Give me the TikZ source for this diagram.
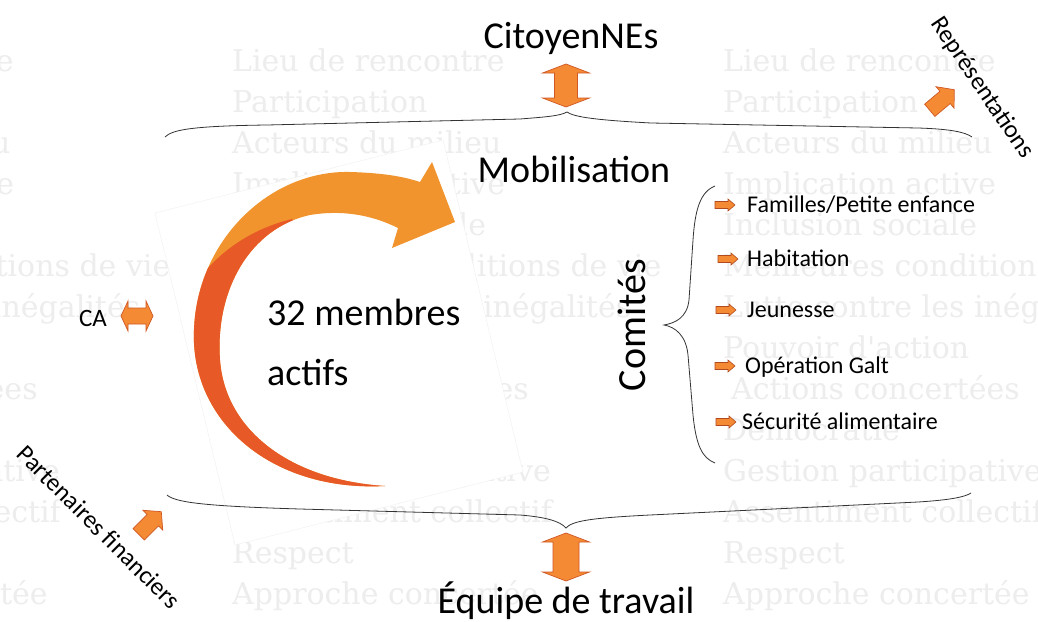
\documentclass[tikz,border=0pt]{standalone}
\usepackage{fontspec}
\setmainfont{Carlito}
\newfontfamily\wmfont{DejaVu Serif}
\usetikzlibrary{calc}
\definecolor{arrfill}{RGB}{245,138,52}
\definecolor{arrline}{RGB}{208,88,36}
\definecolor{bigorange}{RGB}{241,148,46}
\definecolor{bigred}{RGB}{231,90,40}
\def\onearrow[#1]#2(#3:#4:#5:#6:#7){\draw[#1,shift={#2},rotate=#3] (-#4,#7) -- (#4-#5,#7) -- (#4-#5,#6) -- (#4,0) -- (#4-#5,-#6) -- (#4-#5,-#7) -- (-#4,-#7) -- cycle;}
\def\dblarrow[#1]#2(#3:#4:#5:#6:#7){\draw[#1,shift={#2},rotate=#3] (-#4,0) -- (-#4+#5,#6) -- (-#4+#5,#7) -- (#4-#5,#7) -- (#4-#5,#6) -- (#4,0) -- (#4-#5,-#6) -- (#4-#5,-#7) -- (-#4+#5,-#7) -- (-#4+#5,-#6) -- cycle;}
\tikzset{
  wmark/.style={anchor=base west, inner sep=0pt, text=black!7, font=\wmfont\fontsize{30}{36}\selectfont},
  big/.style={inner sep=0pt, font=\fontsize{38}{46}\selectfont},
  item/.style={inner sep=0pt, font=\fontsize{24}{28}\selectfont},
  fatarr/.style={fill=arrfill, draw=arrline, line width=0.7pt},
  bullet/.style={fill=arrfill, draw=arrline!85!black, line width=0.6pt},
  curly/.style={line width=0.8pt, draw=black!80}
}
\begin{document}
\begin{tikzpicture}[x=1pt,y=-1pt]
		\useasboundingbox (0,0) rectangle (1038,621);
		\fill[white] (0,0) rectangle (1038,621);
		
		%%%%% faded words %%%%%
		\begin{scope}
			\clip (0,0) rectangle (1038,621);
			\foreach \cx in {-259,232,723}{
				\foreach \w [count=\i] in {Lieu de rencontre,Participation,Acteurs du milieu,Implication active,Inclusion sociale,Meilleures conditions de vie,Lutte contre les inégalités,Pouvoir d'action,\kern8pt Actions concertées,Démocratie,Gestion participative,Assentiment collectif,Respect,Approche concertée}{
					\node[wmark] at (\cx,71+41*\i-41) {\w};
				}
			}
		\end{scope}
		
		%%%%% picture behind the arrow %%%%%
		\filldraw[white, draw=black!6] (155,213) -- (443,140) -- (523,472) -- (235,545) -- cycle;
		
		%%%%% braces %%%%%
		\coordinate (toptip) at (567,112);
		\coordinate (bottip) at (566,528);
		\draw[curly] (165,137) .. controls (172,130) and (190,126) .. (267,125) -- (520,119) .. controls (545,117) and (560,116) .. (toptip) .. controls (574,117) and (595,120) .. (651,123) -- (918,128) .. controls (950,129) and (965,132) .. (972,137);
		\draw[curly] (167,495) .. controls (175,502) and (200,506) .. (300,509) -- (520,515) .. controls (545,517) and (560,521) .. (bottip) .. controls (572,521) and (590,518) .. (650,515) -- (918,502) .. controls (950,500) and (965,497) .. (971,493);
		\draw[curly] (715,186) .. controls (700,192) and (695,210) .. (693,240) -- (689,300) .. controls (687,318) and (675,323) .. (664,325) .. controls (675,327) and (686,335) .. (688,355) -- (693,415) .. controls (696,445) and (702,458) .. (715,463);
		
		%%%%% big arrow %%%%%
		\fill[bigorange] (385,486) .. controls (270,492) and (190,420) .. (194,330) .. controls (197,240) and (270,170) .. (350,172) .. controls (385,173) and (405,177) .. (420,182) -- (432,162) -- (455,222) -- (392,248) -- (398,228) .. controls (370,214) and (340,210) .. (310,215) .. controls (250,228) and (215,290) .. (220,360) .. controls (225,430) and (290,480) .. (385,486) -- cycle;
		\begin{scope}
			\clip (385,486) .. controls (270,492) and (190,420) .. (194,330) .. controls (197,240) and (270,170) .. (350,172) .. controls (385,173) and (405,177) .. (420,182) -- (432,162) -- (455,222) -- (392,248) -- (398,228) .. controls (370,214) and (340,210) .. (310,215) .. controls (250,228) and (215,290) .. (220,360) .. controls (225,430) and (290,480) .. (385,486) -- cycle;
			\fill[bigred] (305,240) -- (292,219) .. controls (255,228) and (215,250) .. (188,295) -- (150,520) -- (420,520) -- (420,300) -- cycle;
		\end{scope}
		
		%%%%% texts %%%%%
		\node[big, anchor=base] (cit) at (571,48) {CitoyenNEs};
		\node[big, anchor=base] (mob) at (574,182) {Mobilisation};
		\node[big, anchor=base west] (membres) at (267,325) {32 membres};
		\node[big, anchor=base west] (actifs) at ([yshift=-60pt]membres.base west) {actifs};
		\node[big, anchor=base, rotate=90, font=\fontsize{40}{46}\selectfont] (comites) at (645,325) {Comités};
		\node[big, anchor=base] (equipe) at (566,613) {Équipe de travail};
		\node[item, anchor=base, font=\fontsize{25}{28}\selectfont] (ca) at (93,326) {CA};
		\node[item, rotate=-56, font=\fontsize{25}{28}\selectfont] (repr) at (982,88) {Représentations};
		\node[item, rotate=-45, font=\fontsize{25}{28}\selectfont] (part) at (99,527) {Partenaires financiers};
		
		\node[item, anchor=base west] (fam) at (747,212) {Familles/Petite enfance};
		\node[item, anchor=base west] (hab) at (747,266) {Habitation};
		\node[item, anchor=base west] (jeu) at (747,317) {Jeunesse};
		\node[item, anchor=base west] (galt) at (745,373) {Opération Galt};
		\node[item, anchor=base west] (secu) at (742,429) {Sécurité alimentaire};
		
		%%%%% orange arrows %%%%%
		\dblarrow[fatarr]{(566,85.5)}(90:21.5:9:23.5:11.5);
		\dblarrow[fatarr]{(566,557)}(90:24:9:23.5:13);
		\dblarrow[fatarr]{(137,316)}(0:16:7:15:8);
		\onearrow[fatarr]{(942,100)}(40:16:12:14:8);
		\onearrow[fatarr]{(150,523)}(45:16:12:14:8);
		
		\foreach \nm/\dx in {fam/22,hab/19,jeu/21,galt/20,secu/16}
			\onearrow[bullet]{($(\nm.base west)+(-\dx,-7)$)}(0:10:7:6:3.5);
		
	\end{tikzpicture}
\end{document}
